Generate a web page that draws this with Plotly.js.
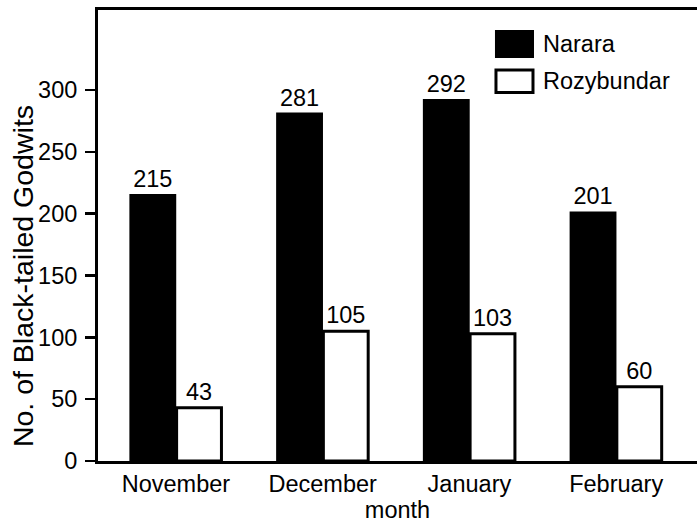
<!DOCTYPE html>
<html>
<head>
<meta charset="utf-8">
<script src="https://cdn.plot.ly/plotly-3.0.1.min.js"></script>
<style>html,body{margin:0;padding:0;background:#fff;}#chart{width:698px;height:529px;}</style>
</head>
<body>
<div id="chart"></div>
<script>
var months = ["November", "December", "January", "February"];
var seriesNames = ["Narara", "Rozybundar"];
var narara = [215, 281, 292, 201];
var rozybundar = [43, 105, 103, 60];
var yTicks = [0, 50, 100, 150, 200, 250, 300];

var FONT = "Liberation Sans, Arial, Helvetica, sans-serif";
var FS = 23.5;

var traces = [
  {
    type: "bar", name: seriesNames[0], x: months, y: narara,
    text: narara.map(String), textposition: "outside", cliponaxis: false,
    textfont: {family: FONT, size: FS, color: "#000"},
    marker: {color: "#000", line: {color: "#000", width: 2}},
    showlegend: false, hoverinfo: "none"
  },
  {
    type: "bar", name: seriesNames[1], x: months, y: rozybundar,
    text: rozybundar.map(String), textposition: "outside", cliponaxis: false,
    textfont: {family: FONT, size: FS, color: "#000"},
    marker: {color: "#fff", line: {color: "#000", width: 3}},
    showlegend: false, hoverinfo: "none"
  }
];

var layout = {
  width: 698, height: 529,
  margin: {l: 98, r: 1, t: 10, b: 68},
  paper_bgcolor: "#fff", plot_bgcolor: "#fff",
  font: {family: FONT, size: FS, color: "#000"},
  barmode: "group", bargap: 0.37, bargroupgap: 0.03,
  xaxis: {
    type: "category", range: [-0.531, 3.551],
    showline: true, linecolor: "#000", linewidth: 3, mirror: true,
    ticks: "", showgrid: false, zeroline: false,
    tickfont: {family: FONT, size: FS, color: "#000"},
    ticklabelstandoff: 0,
    title: {text: "month", font: {family: FONT, size: FS, color: "#000"}, standoff: 6}
  },
  yaxis: {
    range: [0, 364.7], tickvals: yTicks, ticktext: yTicks.map(String),
    showline: true, linecolor: "#000", linewidth: 3,
    ticks: "outside", ticklen: 10, tickwidth: 2.5, tickcolor: "#000",
    showgrid: false, zeroline: false,
    tickfont: {family: FONT, size: FS, color: "#000"},
    ticklabelstandoff: 3
  },
  shapes: [
    {type: "rect", xref: "paper", yref: "paper", x0: 0.6644, x1: 0.7262, y0: 0.8958, y1: 0.9534,
     fillcolor: "#000", line: {color: "#000", width: 2}},
    {type: "rect", xref: "paper", yref: "paper", x0: 0.6644, x1: 0.7262, y0: 0.8170, y1: 0.8670,
     fillcolor: "#fff", line: {color: "#000", width: 3}}
  ],
  annotations: [
    {xref: "paper", yref: "paper", x: 0.7396, y: 0.9246, xanchor: "left", yanchor: "middle",
     text: seriesNames[0], showarrow: false, font: {family: FONT, size: FS, color: "#000"}},
    {xref: "paper", yref: "paper", x: 0.7396, y: 0.8426, xanchor: "left", yanchor: "middle",
     text: seriesNames[1], showarrow: false, font: {family: FONT, size: FS, color: "#000"}},
    {xref: "paper", yref: "paper", x: -0.1252, y: 0.41, xanchor: "center", yanchor: "middle",
     textangle: -90, text: "No. of Black-tailed Godwits", showarrow: false,
     font: {family: FONT, size: 28.5, color: "#000"}}
  ]
};

Plotly.newPlot("chart", traces, layout, {staticPlot: true, displayModeBar: false});
</script>
</body>
</html>
